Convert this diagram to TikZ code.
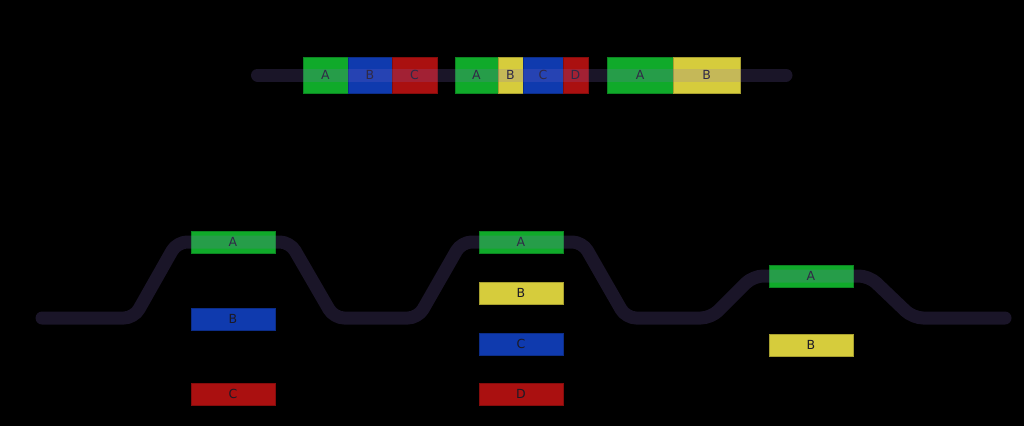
\documentclass[tikz,border=0pt]{standalone}
\usepackage{fontspec}
\setmainfont{DejaVu Sans}
\definecolor{gA}{HTML}{10AA2A}
\definecolor{bB}{HTML}{0F3AAE}
\definecolor{rC}{HTML}{AA1010}
\definecolor{yB}{HTML}{D6CC3C}
\definecolor{lineC}{RGB}{130,105,200}
\definecolor{txt}{HTML}{1C1A26}
\begin{document}
\begin{tikzpicture}[x=1pt,y=-1pt,
  box/.style={draw=#1!78!black, fill=#1, line width=0.8pt, inner sep=0pt, outer sep=0pt,
    text=txt, font=\fontsize{12.5}{14}\selectfont},
  topbox/.style={box=#1, minimum height=36pt},
  lowbox/.style={box=#1, minimum width=84pt, minimum height=22pt},
  track/.style={lineC, opacity=0.2, line width=13pt, line cap=round, line join=round, rounded corners=10pt}]
\fill[black] (0,0) rectangle (1024,426);
\useasboundingbox (0,0) rectangle (1024,426);
% top row
\node[topbox=gA, minimum width=45pt] (t1A) at (325.5,75) {A};
\node[topbox=bB, minimum width=44pt] (t1B) at (370,75) {B};
\node[topbox=rC, minimum width=45pt] (t1C) at (414.5,75) {C};
\node[topbox=gA, minimum width=43pt] (t2A) at (476.5,75) {A};
\node[topbox=yB, minimum width=25pt] (t2B) at (510.5,75) {B};
\node[topbox=bB, minimum width=40pt] (t2C) at (543,75) {C};
\node[topbox=rC, minimum width=25pt] (t2D) at (575.5,75) {D};
\node[topbox=gA, minimum width=66.5pt] (t3A) at (640.25,75) {A};
\node[topbox=yB, minimum width=66.5pt] (t3B) at (706.75,75) {B};
% bottom groups
\node[lowbox=gA] (b1A) at (233,242) {A};
\node[lowbox=bB] (b1B) at (233,319) {B};
\node[lowbox=rC] (b1C) at (233,394) {C};
\node[lowbox=gA] (b2A) at (521,242) {A};
\node[lowbox=yB] (b2B) at (521,293) {B};
\node[lowbox=bB] (b2C) at (521,344) {C};
\node[lowbox=rC] (b2D) at (521,394) {D};
\node[lowbox=gA] (b3A) at (811,276) {A};
\node[lowbox=yB] (b3B) at (811,345) {B};
% tracks
\coordinate (ts) at (257.5,75);
\coordinate (te) at (786,75);
\draw[track] (ts) -- (te);
\coordinate (p0) at (42,318);
\coordinate (p1) at (134,318);
\coordinate (p2) at (177,242);
\coordinate (p3) at (290,242);
\coordinate (p4) at (334,318);
\coordinate (p5) at (418,318);
\coordinate (p6) at (461.5,242);
\coordinate (p7) at (582.5,242);
\coordinate (p8) at (626,318);
\coordinate (p9) at (711,318);
\coordinate (p10) at (753,276);
\coordinate (p11) at (869,276);
\coordinate (p12) at (913,318);
\coordinate (p13) at (1005,318);
\draw[track] (p0) -- (p1) -- (p2) -- (p3) -- (p4) -- (p5) -- (p6) -- (p7) -- (p8) -- (p9) -- (p10) -- (p11) -- (p12) -- (p13);
\end{tikzpicture}
\end{document}
